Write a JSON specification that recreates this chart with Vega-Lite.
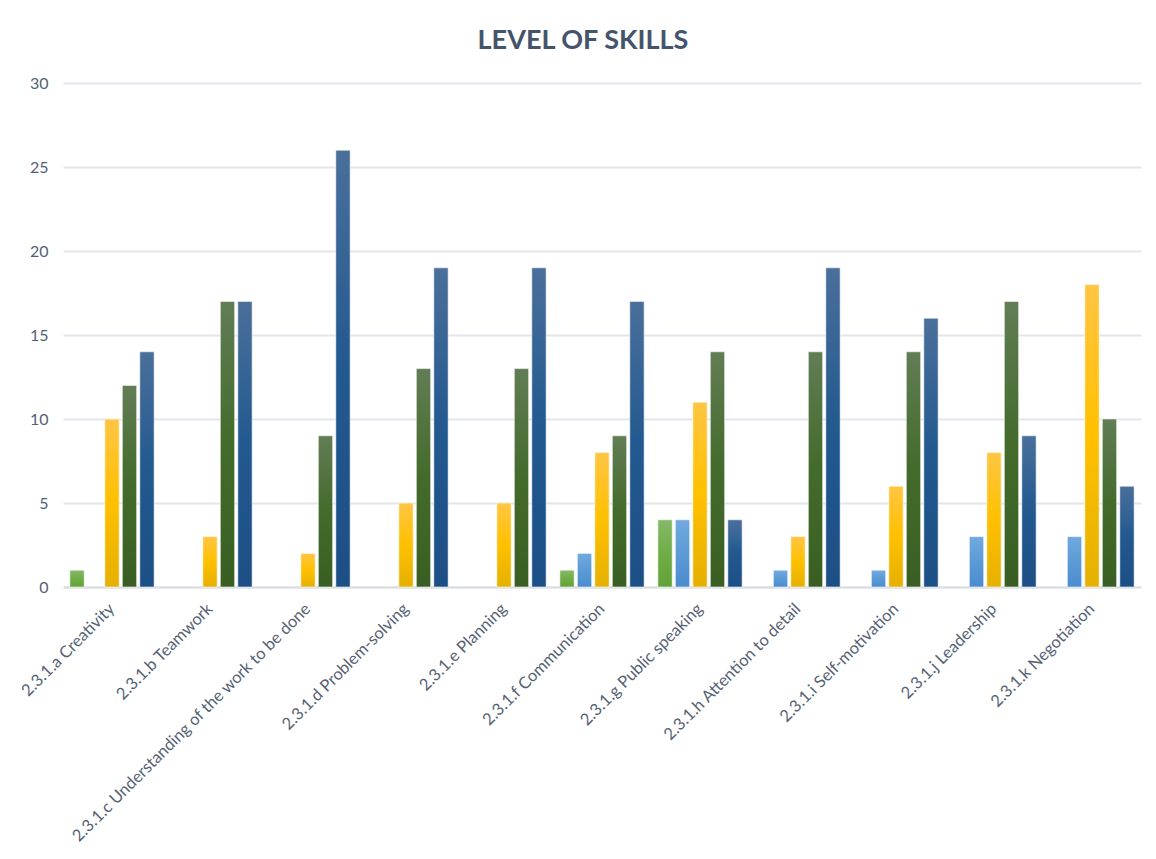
{
  "$schema": "https://vega.github.io/schema/vega-lite/v6.json",
  "autosize": {"type": "none"},
  "padding": {"left": 63, "top": 83, "right": 15, "bottom": 272},
  "width": 1078,
  "height": 504,
  "background": "white",
  "title": {
    "text": "LEVEL OF SKILLS",
    "font": "Lato",
    "fontSize": 27,
    "fontWeight": "bold",
    "color": "#44546A",
    "anchor": "middle",
    "dx": -19,
    "offset": 20
  },
  "data": {
    "values": [
      {"skill": "2.3.1.a Creativity", "series": "S1", "value": 1},
      {"skill": "2.3.1.a Creativity", "series": "S2", "value": 0},
      {"skill": "2.3.1.a Creativity", "series": "S3", "value": 10},
      {"skill": "2.3.1.a Creativity", "series": "S4", "value": 12},
      {"skill": "2.3.1.a Creativity", "series": "S5", "value": 14},
      {"skill": "2.3.1.b Teamwork", "series": "S1", "value": 0},
      {"skill": "2.3.1.b Teamwork", "series": "S2", "value": 0},
      {"skill": "2.3.1.b Teamwork", "series": "S3", "value": 3},
      {"skill": "2.3.1.b Teamwork", "series": "S4", "value": 17},
      {"skill": "2.3.1.b Teamwork", "series": "S5", "value": 17},
      {"skill": "2.3.1.c Understanding of the work to be done", "series": "S1", "value": 0},
      {"skill": "2.3.1.c Understanding of the work to be done", "series": "S2", "value": 0},
      {"skill": "2.3.1.c Understanding of the work to be done", "series": "S3", "value": 2},
      {"skill": "2.3.1.c Understanding of the work to be done", "series": "S4", "value": 9},
      {"skill": "2.3.1.c Understanding of the work to be done", "series": "S5", "value": 26},
      {"skill": "2.3.1.d Problem-solving", "series": "S1", "value": 0},
      {"skill": "2.3.1.d Problem-solving", "series": "S2", "value": 0},
      {"skill": "2.3.1.d Problem-solving", "series": "S3", "value": 5},
      {"skill": "2.3.1.d Problem-solving", "series": "S4", "value": 13},
      {"skill": "2.3.1.d Problem-solving", "series": "S5", "value": 19},
      {"skill": "2.3.1.e Planning", "series": "S1", "value": 0},
      {"skill": "2.3.1.e Planning", "series": "S2", "value": 0},
      {"skill": "2.3.1.e Planning", "series": "S3", "value": 5},
      {"skill": "2.3.1.e Planning", "series": "S4", "value": 13},
      {"skill": "2.3.1.e Planning", "series": "S5", "value": 19},
      {"skill": "2.3.1.f Communication", "series": "S1", "value": 1},
      {"skill": "2.3.1.f Communication", "series": "S2", "value": 2},
      {"skill": "2.3.1.f Communication", "series": "S3", "value": 8},
      {"skill": "2.3.1.f Communication", "series": "S4", "value": 9},
      {"skill": "2.3.1.f Communication", "series": "S5", "value": 17},
      {"skill": "2.3.1.g Public speaking", "series": "S1", "value": 4},
      {"skill": "2.3.1.g Public speaking", "series": "S2", "value": 4},
      {"skill": "2.3.1.g Public speaking", "series": "S3", "value": 11},
      {"skill": "2.3.1.g Public speaking", "series": "S4", "value": 14},
      {"skill": "2.3.1.g Public speaking", "series": "S5", "value": 4},
      {"skill": "2.3.1.h Attention to detail", "series": "S1", "value": 0},
      {"skill": "2.3.1.h Attention to detail", "series": "S2", "value": 1},
      {"skill": "2.3.1.h Attention to detail", "series": "S3", "value": 3},
      {"skill": "2.3.1.h Attention to detail", "series": "S4", "value": 14},
      {"skill": "2.3.1.h Attention to detail", "series": "S5", "value": 19},
      {"skill": "2.3.1.i Self-motivation", "series": "S1", "value": 0},
      {"skill": "2.3.1.i Self-motivation", "series": "S2", "value": 1},
      {"skill": "2.3.1.i Self-motivation", "series": "S3", "value": 6},
      {"skill": "2.3.1.i Self-motivation", "series": "S4", "value": 14},
      {"skill": "2.3.1.i Self-motivation", "series": "S5", "value": 16},
      {"skill": "2.3.1.j Leadership", "series": "S1", "value": 0},
      {"skill": "2.3.1.j Leadership", "series": "S2", "value": 3},
      {"skill": "2.3.1.j Leadership", "series": "S3", "value": 8},
      {"skill": "2.3.1.j Leadership", "series": "S4", "value": 17},
      {"skill": "2.3.1.j Leadership", "series": "S5", "value": 9},
      {"skill": "2.3.1.k Negotiation", "series": "S1", "value": 0},
      {"skill": "2.3.1.k Negotiation", "series": "S2", "value": 3},
      {"skill": "2.3.1.k Negotiation", "series": "S3", "value": 18},
      {"skill": "2.3.1.k Negotiation", "series": "S4", "value": 10},
      {"skill": "2.3.1.k Negotiation", "series": "S5", "value": 6}
    ]
  },
  "transform": [{"filter": "datum.value > 0"}],
  "mark": {"type": "bar", "stroke": "#ffffff", "strokeOpacity": 0.55, "strokeWidth": 1},
  "encoding": {
    "x": {
      "field": "skill",
      "type": "nominal",
      "sort": null,
      "scale": {"paddingInner": 0.14, "paddingOuter": 0.07},
      "axis": {
        "title": null,
        "labelAngle": -45,
        "labelAlign": "right",
        "labelBaseline": "middle",
        "labelFont": "Lato",
        "labelFontSize": 16.5,
        "labelColor": "#556173",
        "labelPadding": 19,
        "labelLimit": 500,
        "ticks": false,
        "domain": true,
        "domainColor": "#D9DDE3",
        "domainWidth": 2,
        "grid": false
      }
    },
    "xOffset": {
      "field": "series",
      "type": "nominal",
      "scale": {"domain": ["S1", "S2", "S3", "S4", "S5"], "paddingInner": 0.18, "paddingOuter": 0}
    },
    "y": {
      "field": "value",
      "type": "quantitative",
      "scale": {"domain": [0, 30], "nice": false},
      "axis": {
        "title": null,
        "values": [0, 5, 10, 15, 20, 25, 30],
        "labelFont": "Lato",
        "labelFontSize": 16,
        "labelColor": "#556173",
        "labelPadding": 15,
        "ticks": false,
        "domain": false,
        "grid": true,
        "gridColor": "#E3E6EB",
        "gridWidth": 2
      }
    },
    "color": {
      "condition": [
        {"test": "datum.series === 'S1'", "value": {"gradient": "linear", "x1": 0, "y1": 0, "x2": 0, "y2": 1, "stops": [{"offset": 0, "color": "#85B868"}, {"offset": 0.5, "color": "#70AD47"}, {"offset": 1, "color": "#62A23A"}]}},
        {"test": "datum.series === 'S2'", "value": {"gradient": "linear", "x1": 0, "y1": 0, "x2": 0, "y2": 1, "stops": [{"offset": 0, "color": "#72A9E0"}, {"offset": 0.5, "color": "#5B9BD5"}, {"offset": 1, "color": "#4A8CD0"}]}},
        {"test": "datum.series === 'S3'", "value": {"gradient": "linear", "x1": 0, "y1": 0, "x2": 0, "y2": 1, "stops": [{"offset": 0, "color": "#FFC543"}, {"offset": 0.5, "color": "#FFC000"}, {"offset": 1, "color": "#E5B000"}]}},
        {"test": "datum.series === 'S4'", "value": {"gradient": "linear", "x1": 0, "y1": 0, "x2": 0, "y2": 1, "stops": [{"offset": 0, "color": "#627D55"}, {"offset": 0.5, "color": "#436B2B"}, {"offset": 1, "color": "#3A5E22"}]}}
      ],
      "value": {"gradient": "linear", "x1": 0, "y1": 0, "x2": 0, "y2": 1, "stops": [{"offset": 0, "color": "#4A6F9B"}, {"offset": 0.5, "color": "#22598F"}, {"offset": 1, "color": "#1C4F85"}]}
    }
  },
  "config": {
    "view": {"stroke": null},
    "font": "Lato"
  }
}
